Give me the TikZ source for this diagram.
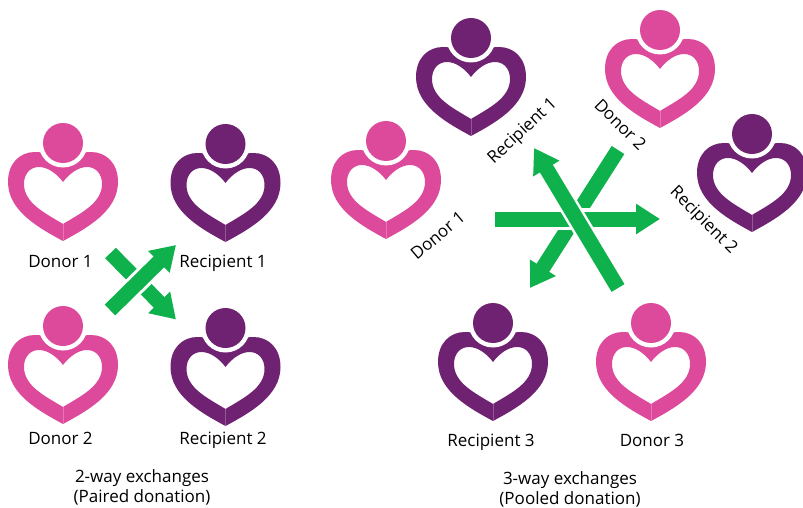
\documentclass[tikz,border=0pt]{standalone}
\usepackage{fontspec}
\setmainfont{Open Sans}
\usetikzlibrary{arrows.meta}
\definecolor{pinkheart}{HTML}{DD4A9B}
\definecolor{purpleheart}{HTML}{6F2271}
\definecolor{greenarrow}{HTML}{0FB14C}
\tikzset{
	person/.pic={
		\fill[#1, even odd rule]
			(0,98) .. controls (-24,85) and (-55,68) .. (-55,39)
			.. controls (-55,20) and (-43,9) .. (-28,9)
			.. controls (-15,9) and (-5,15) .. (0,24)
			.. controls (5,15) and (15,9) .. (28,9)
			.. controls (43,9) and (55,20) .. (55,39)
			.. controls (55,68) and (24,85) .. (0,98) -- cycle
			(0,81) .. controls (-18,70) and (-39,60) .. (-39,41)
			.. controls (-39,31) and (-33,24) .. (-24,24)
			.. controls (-15,24) and (-6,31) .. (0,39)
			.. controls (6,31) and (15,24) .. (24,24)
			.. controls (33,24) and (39,31) .. (39,41)
			.. controls (39,60) and (18,70) .. (0,81) -- cycle;
		\draw[#1!75!white, line width=0.5pt] (0,81) -- (0,98);
		\fill[white] (0,0) circle (24.5);
		\node[#1, fill, circle, inner sep=0pt, minimum size=40pt] (-head) at (0,0) {};
	},
	label/.style={font=\fontsize{17}{20}\selectfont, text=black, inner sep=0pt, text height=12pt, text depth=4pt},
	caption/.style={font=\fontsize{17}{20}\selectfont, text=black, inner sep=0pt, align=center},
	swap/.style={draw=greenarrow, line width=15pt, -{Triangle[width=29pt, length=24pt, fill=greenarrow]}},
	gap/.style={draw=white, line width=#1},
}
\begin{document}
\begin{tikzpicture}[x=1pt, y=-1pt]
	\useasboundingbox (0,0) rectangle (803,508);

	%%2-way exchanges
	\pic (donorA) at (63,143) {person=pinkheart};
	\pic (recipA) at (225.5,144) {person=purpleheart};
	\pic (donorB) at (63,326) {person=pinkheart};
	\pic (recipB) at (225.5,328) {person=purpleheart};

	\node[label] (labelDonorA) at (60.5,263) {Donor 1};
	\node[label] (labelRecipA) at (223,263) {Recipient 1};
	\node[label] (labelDonorB) at (60.5,440.5) {Donor 2};
	\node[label] (labelRecipB) at (223,440.5) {Recipient 2};

	\coordinate (startA) at (110.5,253);
	\coordinate (tipA) at (176,319.5);
	\coordinate (startB) at (110,310);
	\coordinate (tipB) at (176,245);

	\draw[swap] (startA) -- (tipA);
	\draw[gap=21pt] (startB) -- (tipB);
	\draw[swap] (startB) -- (tipB);

	\node[caption] (captionTwo) at (142,487) {2-way exchanges\\(Paired donation)};

	%%3-way exchanges
	\pic (recipC) at (471,38) {person=purpleheart};
	\pic (donorD) at (660,30) {person=pinkheart};
	\pic (recipD) at (752,134) {person=purpleheart};
	\pic (donorC) at (386,141) {person=pinkheart};
	\pic (recipE) at (493,323) {person=purpleheart};
	\pic (donorE) at (651,323) {person=pinkheart};

	\node[label, rotate=43] (labelRecipC) at (523,131.5) {Recipient 1};
	\node[label, rotate=-45] (labelDonorD) at (619,126) {Donor 2};
	\node[label, rotate=-45] (labelRecipD) at (703,221) {Recipient 2};
	\node[label, rotate=40] (labelDonorC) at (439,237) {Donor 1};
	\node[label] (labelRecipE) at (491,442) {Recipient 3};
	\node[label] (labelDonorE) at (652,442) {Donor 3};

	\coordinate (startC) at (495,219);
	\coordinate (tipC) at (660,219);
	\coordinate (startD) at (618,150);
	\coordinate (tipD) at (530,288);
	\coordinate (startE) at (618,288);
	\coordinate (tipE) at (534,148);

	%%the three arrows cross, each one over the last
	\draw[swap] (startD) -- (tipD);
	\draw[gap=21.5pt] (startC) -- (635,219);
	\draw[swap] (startC) -- (tipC);
	\draw[gap=20pt] (startE) -- (tipE);
	\draw[swap] (startE) -- (tipE);

	\node[caption] (captionThree) at (570,489.5) {3-way exchanges\\(Pooled donation)};
\end{tikzpicture}
\end{document}
